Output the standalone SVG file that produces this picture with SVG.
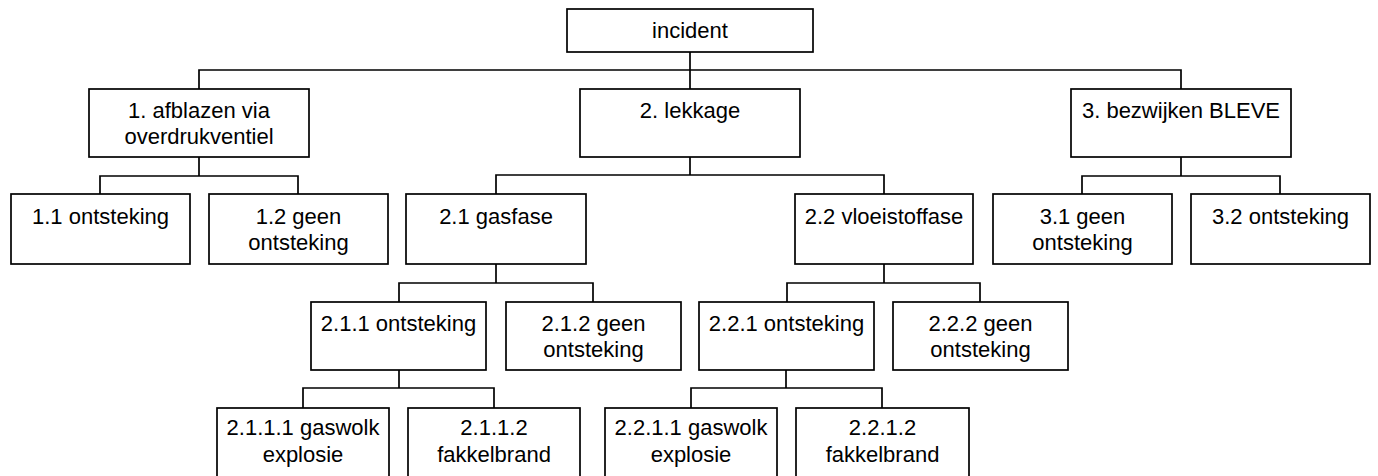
<svg xmlns="http://www.w3.org/2000/svg" width="1378" height="476" viewBox="0 0 1378 476">
<style>
.box{fill:#fff;stroke:#000;stroke-width:1.7}
.t{font-family:"Liberation Sans",Arial,sans-serif;font-size:22px;fill:#000;text-anchor:middle}
.c{fill:none;stroke:#000;stroke-width:1.7}
</style>
<rect width="1378" height="476" fill="#fff"/>
<g id="connectors">
<path class="c" d="M690 52V89M199 89V70H1181V89"/>
<path class="c" d="M199 157V176M100 194V176H298V194"/>
<path class="c" d="M690 157V175M496 194V175H884V194"/>
<path class="c" d="M1181 157V176M1082 194V176H1280V194"/>
<path class="c" d="M496 264V283M399 302V283H593V302"/>
<path class="c" d="M884 264V283M787 302V283H980V302"/>
<path class="c" d="M399 370V388M303 408V388H494V408"/>
<path class="c" d="M786 370V388M691 408V388H882V408"/>
</g>
<g id="n-incident"><rect class="box" x="567" y="9" width="246" height="43"/><text class="t" x="690" y="38">incident</text></g>
<g id="n-1"><rect class="box" x="89" y="89" width="220" height="68"/><text class="t" x="199" y="118">1. afblazen via</text><text class="t" x="199" y="144">overdrukventiel</text></g>
<g id="n-2"><rect class="box" x="580" y="89" width="220" height="68"/><text class="t" x="690" y="118">2. lekkage</text></g>
<g id="n-3"><rect class="box" x="1071" y="89" width="220" height="68"/><text class="t" x="1181" y="118">3. bezwijken BLEVE</text></g>
<g id="n-1-1"><rect class="box" x="11" y="194" width="179" height="70"/><text class="t" x="100.5" y="224">1.1 ontsteking</text></g>
<g id="n-1-2"><rect class="box" x="209" y="194" width="179" height="70"/><text class="t" x="298.5" y="224">1.2 geen</text><text class="t" x="298.5" y="250">ontsteking</text></g>
<g id="n-2-1"><rect class="box" x="406" y="194" width="180" height="70"/><text class="t" x="496" y="224">2.1 gasfase</text></g>
<g id="n-2-2"><rect class="box" x="795" y="194" width="178" height="70"/><text class="t" x="884" y="224">2.2 vloeistoffase</text></g>
<g id="n-3-1"><rect class="box" x="993" y="194" width="179" height="70"/><text class="t" x="1082.5" y="224">3.1 geen</text><text class="t" x="1082.5" y="250">ontsteking</text></g>
<g id="n-3-2"><rect class="box" x="1191" y="194" width="179" height="70"/><text class="t" x="1280.5" y="224">3.2 ontsteking</text></g>
<g id="n-2-1-1"><rect class="box" x="311" y="302" width="175" height="68"/><text class="t" x="398.5" y="331">2.1.1 ontsteking</text></g>
<g id="n-2-1-2"><rect class="box" x="506" y="302" width="175" height="68"/><text class="t" x="593.5" y="331">2.1.2 geen</text><text class="t" x="593.5" y="357">ontsteking</text></g>
<g id="n-2-2-1"><rect class="box" x="699" y="302" width="175" height="68"/><text class="t" x="786.5" y="331">2.2.1 ontsteking</text></g>
<g id="n-2-2-2"><rect class="box" x="893" y="302" width="175" height="68"/><text class="t" x="980.5" y="331">2.2.2 geen</text><text class="t" x="980.5" y="357">ontsteking</text></g>
<g id="n-2-1-1-1"><rect class="box" x="217" y="408" width="172" height="80"/><text class="t" x="303" y="435">2.1.1.1 gaswolk</text><text class="t" x="303" y="462">explosie</text></g>
<g id="n-2-1-1-2"><rect class="box" x="408" y="408" width="172" height="80"/><text class="t" x="494" y="435">2.1.1.2</text><text class="t" x="494" y="462">fakkelbrand</text></g>
<g id="n-2-2-1-1"><rect class="box" x="605" y="408" width="172" height="80"/><text class="t" x="691" y="435">2.2.1.1 gaswolk</text><text class="t" x="691" y="462">explosie</text></g>
<g id="n-2-2-1-2"><rect class="box" x="796" y="408" width="173" height="80"/><text class="t" x="882.5" y="435">2.2.1.2</text><text class="t" x="882.5" y="462">fakkelbrand</text></g>
</svg>
